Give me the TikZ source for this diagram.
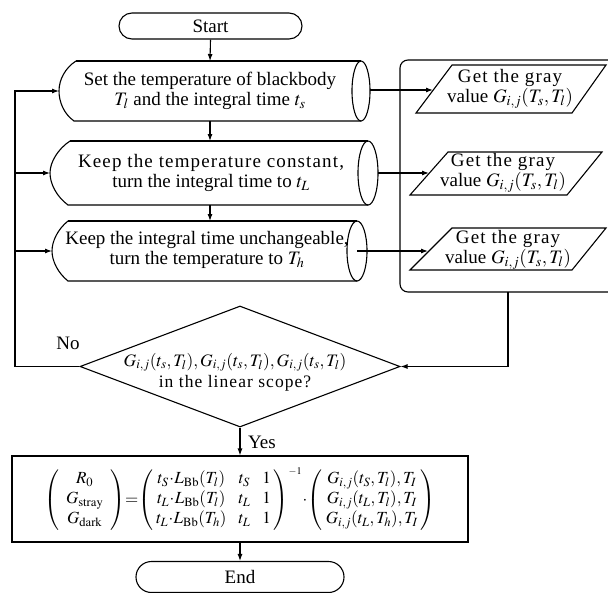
\documentclass[tikz,border=0pt]{standalone}
\usepackage{mathptmx}
\usepackage{fontspec}
\setmainfont{Liberation Serif}
\usetikzlibrary{arrows.meta,shapes.geometric,shapes.misc}
\newcommand\myfs{\fontsize{19}{20}\selectfont}
\newcommand\myspc{\addfontfeatures{LetterSpace=6}}
\tikzset{
  ln/.style={line width=1.1pt},
  arr/.style={ln, -{Latex[length=7pt,width=5pt]}},
  txt/.style={align=center, inner sep=0pt, font=\myfs},
  term/.style={draw, ln, rounded rectangle, inner sep=0pt, font=\myfs},
}
\begin{document}
\begin{tikzpicture}[x=1pt,y=-1pt]
\useasboundingbox (0,0) rectangle (608,592);
\clip (0,0) rectangle (608,592);

% Start
\node[term, minimum width=183pt, minimum height=26pt] (start) at (210.5,26) {Start};

% Box 1
\draw[ln] (76,61) .. controls (65,68) and (59,80) .. (59,91) .. controls (59,102) and (64,114) .. (74,121) -- (361,121);
\draw[ln] (76,61) -- (361,61);
\draw[ln] (361,91) ellipse [x radius=9pt, y radius=30pt];
\coordinate (b1w) at (59,91);
\coordinate (b1n) at (210,61);
\coordinate (b1s) at (210,121);
\coordinate (b1e) at (370,90);
\node[txt] (b1) at (210,91) {Set the temperature of blackbody\\ $T_l$ and the integral time $t_s$};

% Box 2
\draw[ln] (70,141) .. controls (58,149) and (50,162) .. (50,173) .. controls (50,184) and (57,197) .. (68,205) -- (368,205);
\draw[ln] (70,141) -- (368,141);
\draw[ln] (368,173) ellipse [x radius=10pt, y radius=32pt];
\coordinate (b2w) at (50,173);
\coordinate (b2n) at (210,141);
\coordinate (b2s) at (210,205);
\coordinate (b2e) at (378,173);
\node[txt] (b2) at (211,173) {\myspc Keep the temperature constant,\\ turn the integral time to $t_L$};

% Box 3
\draw[ln] (68,221) .. controls (58,229) and (52,241) .. (52,251) .. controls (52,261) and (58,273) .. (68,281) -- (357,281);
\draw[ln] (68,221) -- (357,221);
\draw[ln] (357,251) ellipse [x radius=10pt, y radius=30pt];
\coordinate (b3w) at (52,251);
\coordinate (b3n) at (210,221);
\coordinate (b3e) at (357,251);
\node[txt] (b3) at (207,250) {Keep the integral time unchangeable,\\ turn the temperature to $T_h$};

% vertical flow
\draw[arr] (start.south) -- (b1n);
\draw[arr] (b1s) -- (b2n);
\draw[arr] (b2s) -- (b3n);

% right group
\draw[ln, rounded corners=8pt] (400,60) rectangle (630,292);
\coordinate (grpS) at (508,292);

\draw[ln] (452,65) -- (606,65) -- (572,113) -- (416,113) -- cycle;
\coordinate (g1w) at (433,90);
\node[txt] (g1) at (510,89) {\myspc Get the gray\\ value $G_{i,j}(T_s,T_l)$};

\draw[ln] (448,152) -- (602,152) -- (567,195) -- (410,195) -- cycle;
\coordinate (g2w) at (429,173);
\node[txt] (g2) at (503,173) {\myspc Get the gray\\ value $G_{i,j}(T_s,T_l)$};

\draw[ln] (452,228) -- (606,228) -- (572,270) -- (410,270) -- cycle;
\coordinate (g3w) at (428,251);
\node[txt] (g3) at (508,250) {\myspc Get the gray\\ value $G_{i,j}(T_s,T_l)$};

\draw[arr] (b1e) -- (g1w);
\draw[arr] (b2e) -- (g2w);
\draw[arr] (b3e) -- (g3w);

% decision
\node[draw, ln, diamond, minimum width=320pt, minimum height=121pt, inner sep=0pt] (dia) at (240,366.5) {};
\node[txt, font=\fontsize{17.5}{21}\selectfont] (diat) at (235,372) {$G_{i,j}(t_s,T_l),G_{i,j}(t_s,T_l),G_{i,j}(t_s,T_l)$\\ \myspc in the linear scope?};

\draw[arr] (grpS) |- (dia.east);

% feedback
\coordinate (fb) at (15,91);
\draw[arr] (dia.west) -| (fb) -- (b1w);
\draw[arr] (fb |- b2w) -- (b2w);
\draw[arr] (fb |- b3w) -- (b3w);
\node[txt] (no) at (68,343) {No};

% formula
\node[draw, ln, minimum width=456pt, minimum height=86pt, inner sep=0pt, font=\fontsize{17}{20}\selectfont] (formula) at (240,499)
{$\left(\begin{array}{@{\hspace{7pt}}c@{\hspace{7pt}}} R_0\\ G_{\mathrm{stray}}\\ G_{\mathrm{dark}}\end{array}\right)\!\!=\!\!\left(\begin{array}{@{\hspace{3pt}}c@{\hspace{12pt}}c@{\hspace{12pt}}c@{\hspace{3pt}}} t_S\!\cdot\! L_{\mathrm{Bb}}(T_l) & t_S & 1\\ t_L\!\cdot\! L_{\mathrm{Bb}}(T_l) & t_L & 1\\ t_L\!\cdot\! L_{\mathrm{Bb}}(T_h) & t_L & 1\end{array}\right)^{\scriptscriptstyle -1}\!\cdot\!\left(\begin{array}{@{\hspace{3pt}}c@{\hspace{3pt}}} G_{i,j}(t_S,T_l),T_I\\ G_{i,j}(t_L,T_l),T_I\\ G_{i,j}(t_L,T_h),T_I\end{array}\right)$};

\draw[arr] (dia.south) -- (formula.north);
\node[txt] (yes) at (262,442) {Yes};

% End
\node[term, minimum width=208pt, minimum height=31pt] (end) at (240,577) {End};
\draw[arr] (formula.south) -- (end.north);
\end{tikzpicture}
\end{document}
